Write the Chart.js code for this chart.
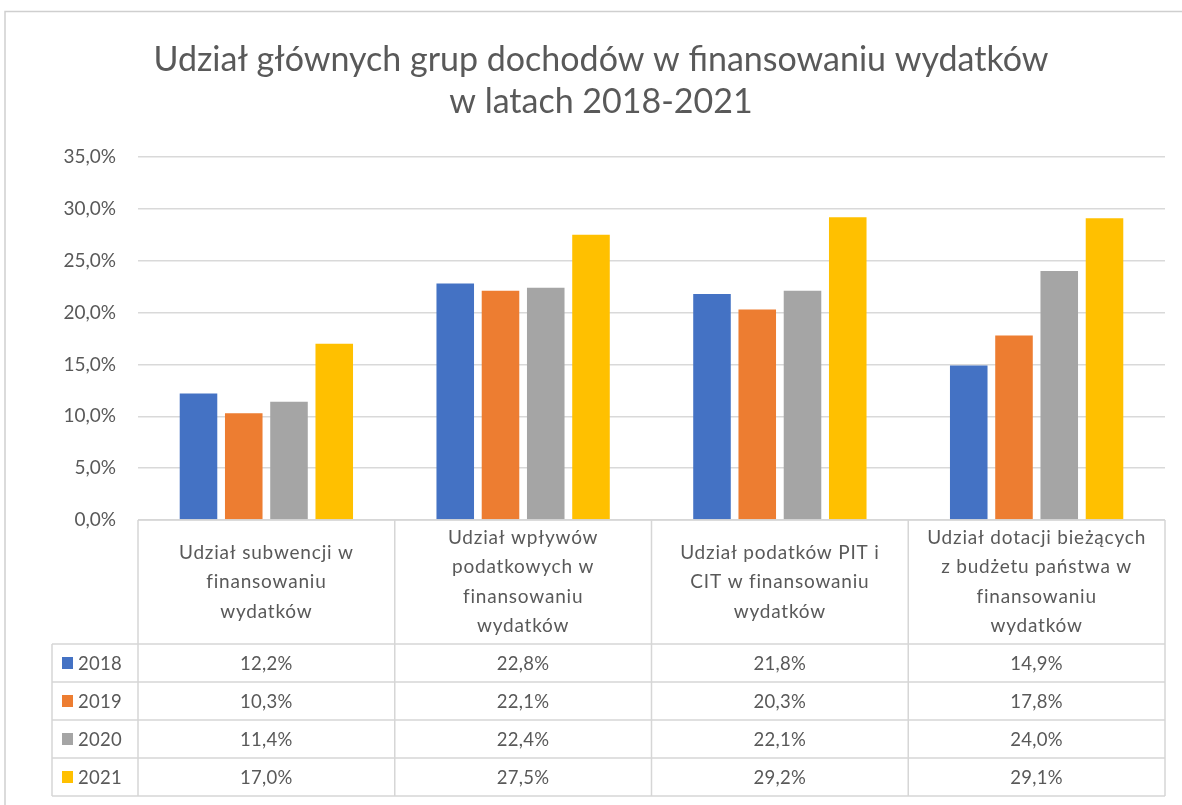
<!DOCTYPE html>
<html lang="pl">
<head>
<meta charset="utf-8">
<title>Udział głównych grup dochodów w finansowaniu wydatków</title>
<script src="https://cdn.jsdelivr.net/npm/chart.js@4.4.1/dist/chart.umd.min.js"></script>
<style>
    html, body { margin: 0; padding: 0; background: #fff; }
    canvas { display: block; }
</style>
</head>
<body>
<canvas id="incomeChart" width="1182" height="805"></canvas>
<script>
// ==================== DATA ====================
const titleLines = ['Udział głównych grup dochodów w finansowaniu wydatków', 'w latach 2018-2021'];
const categories = [
    ['Udział subwencji w', 'finansowaniu', 'wydatków'],
    ['Udział wpływów', 'podatkowych w', 'finansowaniu', 'wydatków'],
    ['Udział podatków PIT i', 'CIT w finansowaniu', 'wydatków'],
    ['Udział dotacji bieżących', 'z budżetu państwa w', 'finansowaniu', 'wydatków']
];
const years = ['2018', '2019', '2020', '2021'];
const values2018 = [12.2, 22.8, 21.8, 14.9];
const values2019 = [10.3, 22.1, 20.3, 17.8];
const values2020 = [11.4, 22.4, 22.1, 24.0];
const values2021 = [17.0, 27.5, 29.2, 29.1];
const yMin = 0;
const yMax = 35;
const yStep = 5;

const seriesColors = ['#4472C4', '#ED7D31', '#A5A5A5', '#FFC000'];
const textColor = '#595959';
const lineColor = '#d6d6d6';
const fontFamily = 'Lato, "Open Sans", sans-serif';

const allValues = [values2018, values2019, values2020, values2021];

function fmtPct(v) {
    return v.toFixed(1).replace('.', ',') + '%';
}

// ==================== FRAME + TITLE + DATA TABLE PLUGIN ====================
// title is drawn here so it can sit centred on the whole picture, like excel does
const dataTablePlugin = {
    id: 'dataTable',
    beforeDraw(chart) {
        const ctx = chart.ctx;
        ctx.save();
        ctx.strokeStyle = '#cfcfcf';
        ctx.lineWidth = 1.5;
        ctx.beginPath();
        ctx.moveTo(5, chart.height);
        ctx.lineTo(5, 11.5);
        ctx.lineTo(chart.width, 11.5);
        ctx.stroke();

        ctx.fillStyle = textColor;
        ctx.font = '34px ' + fontFamily;
        ctx.textAlign = 'center';
        ctx.textBaseline = 'middle';
        titleLines.forEach((line, i) => ctx.fillText(line, 601, 60 + i * 42));
        ctx.restore();
    },
    afterDraw(chart) {
        const ctx = chart.ctx;
        const area = chart.chartArea;
        const n = categories.length;
        const colW = (area.right - area.left) / n;
        const top = area.bottom;
        const headerH = 124;
        const rowH = 38;
        const legendLeft = area.left - 86;
        const tableBottom = top + headerH + rowH * years.length;

        ctx.save();
        ctx.strokeStyle = lineColor;
        ctx.lineWidth = 1.5;

        // horizontal lines
        ctx.beginPath();
        ctx.moveTo(area.left, top);
        ctx.lineTo(area.right, top);
        for (let r = 0; r <= years.length; r++) {
            const y = top + headerH + r * rowH;
            ctx.moveTo(legendLeft, y);
            ctx.lineTo(area.right, y);
        }
        // vertical lines
        for (let c = 0; c <= n; c++) {
            const x = area.left + c * colW;
            ctx.moveTo(x, top);
            ctx.lineTo(x, tableBottom);
        }
        ctx.moveTo(legendLeft, top + headerH);
        ctx.lineTo(legendLeft, tableBottom);
        ctx.stroke();

        // header labels (excel spaces these out a bit)
        ctx.fillStyle = textColor;
        ctx.font = '19px ' + fontFamily;
        ctx.letterSpacing = '0.8px';
        ctx.textAlign = 'center';
        ctx.textBaseline = 'middle';
        const lh = 29.5;
        categories.forEach((lines, c) => {
            const cx = chart.scales.x.getPixelForValue(c);
            const cy = top + headerH / 2;
            const startY = cy - (lines.length - 1) * lh / 2;
            lines.forEach((line, i) => ctx.fillText(line, cx, startY + i * lh));
        });

        // rows
        ctx.font = '18.5px ' + fontFamily;
        ctx.letterSpacing = '0.3px';
        years.forEach((year, r) => {
            const cy = top + headerH + r * rowH + rowH / 2;
            ctx.fillStyle = seriesColors[r];
            ctx.fillRect(legendLeft + 10, cy - 6, 11, 12);
            ctx.fillStyle = textColor;
            ctx.textAlign = 'left';
            ctx.fillText(year, legendLeft + 26, cy + 1);
            ctx.textAlign = 'center';
            allValues[r].forEach((v, c) => {
                ctx.fillText(fmtPct(v), chart.scales.x.getPixelForValue(c), cy + 1);
            });
        });
        ctx.restore();
    }
};

// ==================== CHART ====================
const ctx = document.getElementById('incomeChart');

new Chart(ctx, {
    type: 'bar',
    data: {
        labels: categories,
        datasets: years.map((year, i) => ({
            label: year,
            data: allValues[i],
            backgroundColor: seriesColors[i],
            borderWidth: 0,
            categoryPercentage: 0.705,
            barPercentage: 0.83
        }))
    },
    options: {
        responsive: false,
        animation: false,
        devicePixelRatio: 1,
        layout: { padding: { left: 0, right: 17, top: 157, bottom: 0 } },
        plugins: {
            legend: { display: false },
            tooltip: { enabled: false },
            title: { display: false }
        },
        scales: {
            x: {
                ticks: { display: false },
                grid: { display: false },
                border: { display: false },
                afterFit(scale) { scale.height = 285; }
            },
            y: {
                min: yMin,
                max: yMax,
                ticks: {
                    stepSize: yStep,
                    padding: 22,
                    color: textColor,
                    font: { family: fontFamily, size: 19 },
                    callback: v => fmtPct(v)
                },
                grid: { color: '#d9d9d9', lineWidth: 1.5, drawTicks: false },
                border: { display: false },
                afterFit(scale) { scale.width = 138; }
            }
        }
    },
    plugins: [dataTablePlugin]
});
</script>
</body>
</html>
